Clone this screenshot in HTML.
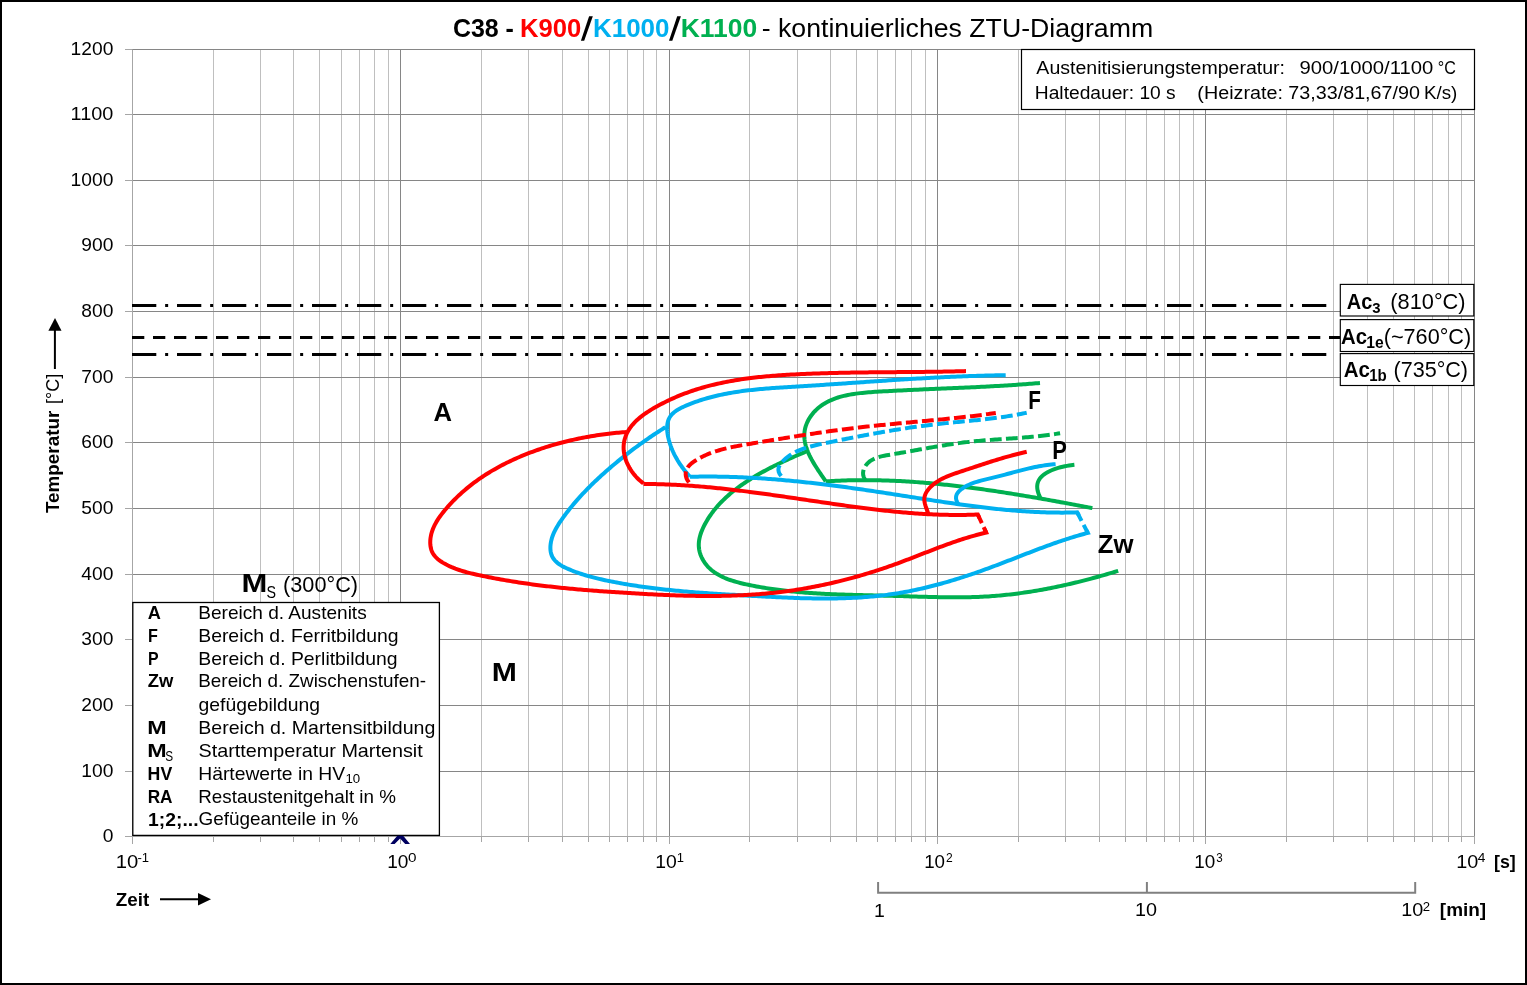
<!DOCTYPE html>
<html><head><meta charset="utf-8"><style>
html,body{margin:0;padding:0;background:#fff;}
svg{display:block;font-family:"Liberation Sans", sans-serif;will-change:transform;}
</style></head><body>
<svg width="1527" height="985" viewBox="0 0 1527 985">
<rect x="1" y="1" width="1525" height="983" fill="#fff" stroke="#000" stroke-width="2"/>
<line x1="213.5" y1="49.5" x2="213.5" y2="836" stroke="#BFBFBF" stroke-width="1"/>
<line x1="213.5" y1="836" x2="213.5" y2="842" stroke="#A6A6A6" stroke-width="1"/>
<line x1="260.5" y1="49.5" x2="260.5" y2="836" stroke="#BFBFBF" stroke-width="1"/>
<line x1="260.5" y1="836" x2="260.5" y2="842" stroke="#A6A6A6" stroke-width="1"/>
<line x1="293.5" y1="49.5" x2="293.5" y2="836" stroke="#BFBFBF" stroke-width="1"/>
<line x1="293.5" y1="836" x2="293.5" y2="842" stroke="#A6A6A6" stroke-width="1"/>
<line x1="319.5" y1="49.5" x2="319.5" y2="836" stroke="#BFBFBF" stroke-width="1"/>
<line x1="319.5" y1="836" x2="319.5" y2="842" stroke="#A6A6A6" stroke-width="1"/>
<line x1="341.5" y1="49.5" x2="341.5" y2="836" stroke="#BFBFBF" stroke-width="1"/>
<line x1="341.5" y1="836" x2="341.5" y2="842" stroke="#A6A6A6" stroke-width="1"/>
<line x1="359.5" y1="49.5" x2="359.5" y2="836" stroke="#BFBFBF" stroke-width="1"/>
<line x1="359.5" y1="836" x2="359.5" y2="842" stroke="#A6A6A6" stroke-width="1"/>
<line x1="374.5" y1="49.5" x2="374.5" y2="836" stroke="#BFBFBF" stroke-width="1"/>
<line x1="374.5" y1="836" x2="374.5" y2="842" stroke="#A6A6A6" stroke-width="1"/>
<line x1="388.5" y1="49.5" x2="388.5" y2="836" stroke="#BFBFBF" stroke-width="1"/>
<line x1="388.5" y1="836" x2="388.5" y2="842" stroke="#A6A6A6" stroke-width="1"/>
<line x1="481.5" y1="49.5" x2="481.5" y2="836" stroke="#BFBFBF" stroke-width="1"/>
<line x1="481.5" y1="836" x2="481.5" y2="842" stroke="#A6A6A6" stroke-width="1"/>
<line x1="528.5" y1="49.5" x2="528.5" y2="836" stroke="#BFBFBF" stroke-width="1"/>
<line x1="528.5" y1="836" x2="528.5" y2="842" stroke="#A6A6A6" stroke-width="1"/>
<line x1="562.5" y1="49.5" x2="562.5" y2="836" stroke="#BFBFBF" stroke-width="1"/>
<line x1="562.5" y1="836" x2="562.5" y2="842" stroke="#A6A6A6" stroke-width="1"/>
<line x1="588.5" y1="49.5" x2="588.5" y2="836" stroke="#BFBFBF" stroke-width="1"/>
<line x1="588.5" y1="836" x2="588.5" y2="842" stroke="#A6A6A6" stroke-width="1"/>
<line x1="609.5" y1="49.5" x2="609.5" y2="836" stroke="#BFBFBF" stroke-width="1"/>
<line x1="609.5" y1="836" x2="609.5" y2="842" stroke="#A6A6A6" stroke-width="1"/>
<line x1="627.5" y1="49.5" x2="627.5" y2="836" stroke="#BFBFBF" stroke-width="1"/>
<line x1="627.5" y1="836" x2="627.5" y2="842" stroke="#A6A6A6" stroke-width="1"/>
<line x1="643.5" y1="49.5" x2="643.5" y2="836" stroke="#BFBFBF" stroke-width="1"/>
<line x1="643.5" y1="836" x2="643.5" y2="842" stroke="#A6A6A6" stroke-width="1"/>
<line x1="656.5" y1="49.5" x2="656.5" y2="836" stroke="#BFBFBF" stroke-width="1"/>
<line x1="656.5" y1="836" x2="656.5" y2="842" stroke="#A6A6A6" stroke-width="1"/>
<line x1="749.5" y1="49.5" x2="749.5" y2="836" stroke="#BFBFBF" stroke-width="1"/>
<line x1="749.5" y1="836" x2="749.5" y2="842" stroke="#A6A6A6" stroke-width="1"/>
<line x1="797.5" y1="49.5" x2="797.5" y2="836" stroke="#BFBFBF" stroke-width="1"/>
<line x1="797.5" y1="836" x2="797.5" y2="842" stroke="#A6A6A6" stroke-width="1"/>
<line x1="830.5" y1="49.5" x2="830.5" y2="836" stroke="#BFBFBF" stroke-width="1"/>
<line x1="830.5" y1="836" x2="830.5" y2="842" stroke="#A6A6A6" stroke-width="1"/>
<line x1="856.5" y1="49.5" x2="856.5" y2="836" stroke="#BFBFBF" stroke-width="1"/>
<line x1="856.5" y1="836" x2="856.5" y2="842" stroke="#A6A6A6" stroke-width="1"/>
<line x1="877.5" y1="49.5" x2="877.5" y2="836" stroke="#BFBFBF" stroke-width="1"/>
<line x1="877.5" y1="836" x2="877.5" y2="842" stroke="#A6A6A6" stroke-width="1"/>
<line x1="895.5" y1="49.5" x2="895.5" y2="836" stroke="#BFBFBF" stroke-width="1"/>
<line x1="895.5" y1="836" x2="895.5" y2="842" stroke="#A6A6A6" stroke-width="1"/>
<line x1="911.5" y1="49.5" x2="911.5" y2="836" stroke="#BFBFBF" stroke-width="1"/>
<line x1="911.5" y1="836" x2="911.5" y2="842" stroke="#A6A6A6" stroke-width="1"/>
<line x1="925.5" y1="49.5" x2="925.5" y2="836" stroke="#BFBFBF" stroke-width="1"/>
<line x1="925.5" y1="836" x2="925.5" y2="842" stroke="#A6A6A6" stroke-width="1"/>
<line x1="1018.5" y1="49.5" x2="1018.5" y2="836" stroke="#BFBFBF" stroke-width="1"/>
<line x1="1018.5" y1="836" x2="1018.5" y2="842" stroke="#A6A6A6" stroke-width="1"/>
<line x1="1065.5" y1="49.5" x2="1065.5" y2="836" stroke="#BFBFBF" stroke-width="1"/>
<line x1="1065.5" y1="836" x2="1065.5" y2="842" stroke="#A6A6A6" stroke-width="1"/>
<line x1="1099.5" y1="49.5" x2="1099.5" y2="836" stroke="#BFBFBF" stroke-width="1"/>
<line x1="1099.5" y1="836" x2="1099.5" y2="842" stroke="#A6A6A6" stroke-width="1"/>
<line x1="1125.5" y1="49.5" x2="1125.5" y2="836" stroke="#BFBFBF" stroke-width="1"/>
<line x1="1125.5" y1="836" x2="1125.5" y2="842" stroke="#A6A6A6" stroke-width="1"/>
<line x1="1146.5" y1="49.5" x2="1146.5" y2="836" stroke="#BFBFBF" stroke-width="1"/>
<line x1="1146.5" y1="836" x2="1146.5" y2="842" stroke="#A6A6A6" stroke-width="1"/>
<line x1="1164.5" y1="49.5" x2="1164.5" y2="836" stroke="#BFBFBF" stroke-width="1"/>
<line x1="1164.5" y1="836" x2="1164.5" y2="842" stroke="#A6A6A6" stroke-width="1"/>
<line x1="1179.5" y1="49.5" x2="1179.5" y2="836" stroke="#BFBFBF" stroke-width="1"/>
<line x1="1179.5" y1="836" x2="1179.5" y2="842" stroke="#A6A6A6" stroke-width="1"/>
<line x1="1193.5" y1="49.5" x2="1193.5" y2="836" stroke="#BFBFBF" stroke-width="1"/>
<line x1="1193.5" y1="836" x2="1193.5" y2="842" stroke="#A6A6A6" stroke-width="1"/>
<line x1="1286.5" y1="49.5" x2="1286.5" y2="836" stroke="#BFBFBF" stroke-width="1"/>
<line x1="1286.5" y1="836" x2="1286.5" y2="842" stroke="#A6A6A6" stroke-width="1"/>
<line x1="1333.5" y1="49.5" x2="1333.5" y2="836" stroke="#BFBFBF" stroke-width="1"/>
<line x1="1333.5" y1="836" x2="1333.5" y2="842" stroke="#A6A6A6" stroke-width="1"/>
<line x1="1367.5" y1="49.5" x2="1367.5" y2="836" stroke="#BFBFBF" stroke-width="1"/>
<line x1="1367.5" y1="836" x2="1367.5" y2="842" stroke="#A6A6A6" stroke-width="1"/>
<line x1="1393.5" y1="49.5" x2="1393.5" y2="836" stroke="#BFBFBF" stroke-width="1"/>
<line x1="1393.5" y1="836" x2="1393.5" y2="842" stroke="#A6A6A6" stroke-width="1"/>
<line x1="1414.5" y1="49.5" x2="1414.5" y2="836" stroke="#BFBFBF" stroke-width="1"/>
<line x1="1414.5" y1="836" x2="1414.5" y2="842" stroke="#A6A6A6" stroke-width="1"/>
<line x1="1432.5" y1="49.5" x2="1432.5" y2="836" stroke="#BFBFBF" stroke-width="1"/>
<line x1="1432.5" y1="836" x2="1432.5" y2="842" stroke="#A6A6A6" stroke-width="1"/>
<line x1="1448.5" y1="49.5" x2="1448.5" y2="836" stroke="#BFBFBF" stroke-width="1"/>
<line x1="1448.5" y1="836" x2="1448.5" y2="842" stroke="#A6A6A6" stroke-width="1"/>
<line x1="1461.5" y1="49.5" x2="1461.5" y2="836" stroke="#BFBFBF" stroke-width="1"/>
<line x1="1461.5" y1="836" x2="1461.5" y2="842" stroke="#A6A6A6" stroke-width="1"/>
<line x1="132" y1="49.5" x2="1474.5" y2="49.5" stroke="#868686" stroke-width="1"/>
<line x1="125" y1="49.5" x2="132" y2="49.5" stroke="#A6A6A6" stroke-width="1"/>
<line x1="132" y1="114.5" x2="1474.5" y2="114.5" stroke="#868686" stroke-width="1"/>
<line x1="125" y1="114.5" x2="132" y2="114.5" stroke="#A6A6A6" stroke-width="1"/>
<line x1="132" y1="180.5" x2="1474.5" y2="180.5" stroke="#868686" stroke-width="1"/>
<line x1="125" y1="180.5" x2="132" y2="180.5" stroke="#A6A6A6" stroke-width="1"/>
<line x1="132" y1="245.5" x2="1474.5" y2="245.5" stroke="#868686" stroke-width="1"/>
<line x1="125" y1="245.5" x2="132" y2="245.5" stroke="#A6A6A6" stroke-width="1"/>
<line x1="132" y1="311.5" x2="1474.5" y2="311.5" stroke="#868686" stroke-width="1"/>
<line x1="125" y1="311.5" x2="132" y2="311.5" stroke="#A6A6A6" stroke-width="1"/>
<line x1="132" y1="377.5" x2="1474.5" y2="377.5" stroke="#868686" stroke-width="1"/>
<line x1="125" y1="377.5" x2="132" y2="377.5" stroke="#A6A6A6" stroke-width="1"/>
<line x1="132" y1="442.5" x2="1474.5" y2="442.5" stroke="#868686" stroke-width="1"/>
<line x1="125" y1="442.5" x2="132" y2="442.5" stroke="#A6A6A6" stroke-width="1"/>
<line x1="132" y1="508.5" x2="1474.5" y2="508.5" stroke="#868686" stroke-width="1"/>
<line x1="125" y1="508.5" x2="132" y2="508.5" stroke="#A6A6A6" stroke-width="1"/>
<line x1="132" y1="574.5" x2="1474.5" y2="574.5" stroke="#868686" stroke-width="1"/>
<line x1="125" y1="574.5" x2="132" y2="574.5" stroke="#A6A6A6" stroke-width="1"/>
<line x1="132" y1="639.5" x2="1474.5" y2="639.5" stroke="#868686" stroke-width="1"/>
<line x1="125" y1="639.5" x2="132" y2="639.5" stroke="#A6A6A6" stroke-width="1"/>
<line x1="132" y1="705.5" x2="1474.5" y2="705.5" stroke="#868686" stroke-width="1"/>
<line x1="125" y1="705.5" x2="132" y2="705.5" stroke="#A6A6A6" stroke-width="1"/>
<line x1="132" y1="771.5" x2="1474.5" y2="771.5" stroke="#868686" stroke-width="1"/>
<line x1="125" y1="771.5" x2="132" y2="771.5" stroke="#A6A6A6" stroke-width="1"/>
<line x1="125" y1="836.5" x2="132" y2="836.5" stroke="#A6A6A6" stroke-width="1"/>
<line x1="400.5" y1="49.5" x2="400.5" y2="836" stroke="#868686" stroke-width="1"/>
<line x1="669.5" y1="49.5" x2="669.5" y2="836" stroke="#868686" stroke-width="1"/>
<line x1="937.5" y1="49.5" x2="937.5" y2="836" stroke="#868686" stroke-width="1"/>
<line x1="1205.5" y1="49.5" x2="1205.5" y2="836" stroke="#868686" stroke-width="1"/>
<line x1="1474.5" y1="49.5" x2="1474.5" y2="836" stroke="#868686" stroke-width="1"/>
<line x1="132.5" y1="836" x2="132.5" y2="844" stroke="#A6A6A6" stroke-width="1"/>
<line x1="400.5" y1="836" x2="400.5" y2="844" stroke="#A6A6A6" stroke-width="1"/>
<line x1="669.5" y1="836" x2="669.5" y2="844" stroke="#A6A6A6" stroke-width="1"/>
<line x1="937.5" y1="836" x2="937.5" y2="844" stroke="#A6A6A6" stroke-width="1"/>
<line x1="1205.5" y1="836" x2="1205.5" y2="844" stroke="#A6A6A6" stroke-width="1"/>
<line x1="1474.5" y1="836" x2="1474.5" y2="844" stroke="#A6A6A6" stroke-width="1"/>
<line x1="132.5" y1="49.5" x2="132.5" y2="836.5" stroke="#A6A6A6" stroke-width="1"/>
<line x1="132" y1="836.5" x2="1474.5" y2="836.5" stroke="#A6A6A6" stroke-width="1"/>
<text x="70.64" y="55.20" font-size="18.31" fill="#000" textLength="42.71" lengthAdjust="spacingAndGlyphs">1200</text>
<text x="70.64" y="120.20" font-size="18.31" fill="#000" textLength="42.71" lengthAdjust="spacingAndGlyphs">1100</text>
<text x="70.64" y="186.20" font-size="18.31" fill="#000" textLength="42.71" lengthAdjust="spacingAndGlyphs">1000</text>
<text x="81.32" y="251.20" font-size="18.31" fill="#000" textLength="32.03" lengthAdjust="spacingAndGlyphs">900</text>
<text x="81.32" y="317.20" font-size="18.31" fill="#000" textLength="32.03" lengthAdjust="spacingAndGlyphs">800</text>
<text x="81.32" y="383.20" font-size="18.31" fill="#000" textLength="32.03" lengthAdjust="spacingAndGlyphs">700</text>
<text x="81.32" y="448.20" font-size="18.31" fill="#000" textLength="32.03" lengthAdjust="spacingAndGlyphs">600</text>
<text x="81.32" y="514.20" font-size="18.31" fill="#000" textLength="32.03" lengthAdjust="spacingAndGlyphs">500</text>
<text x="81.32" y="580.20" font-size="18.31" fill="#000" textLength="32.03" lengthAdjust="spacingAndGlyphs">400</text>
<text x="81.32" y="645.20" font-size="18.31" fill="#000" textLength="32.03" lengthAdjust="spacingAndGlyphs">300</text>
<text x="81.32" y="711.20" font-size="18.31" fill="#000" textLength="32.03" lengthAdjust="spacingAndGlyphs">200</text>
<text x="81.32" y="777.20" font-size="18.31" fill="#000" textLength="32.03" lengthAdjust="spacingAndGlyphs">100</text>
<text x="102.67" y="842.20" font-size="18.31" fill="#000" textLength="10.68" lengthAdjust="spacingAndGlyphs">0</text>
<text x="115.86" y="867.60" font-size="18.31" fill="#000" textLength="22.53" lengthAdjust="spacingAndGlyphs">10</text>
<text x="137.42" y="861.80" font-size="12.60" fill="#000" textLength="11.62" lengthAdjust="spacingAndGlyphs">-1</text>
<text x="387.25" y="867.60" font-size="18.31" fill="#000" textLength="21.20" lengthAdjust="spacingAndGlyphs">10</text>
<text x="407.90" y="861.80" font-size="12.60" fill="#000" textLength="8.49" lengthAdjust="spacingAndGlyphs">0</text>
<text x="655.33" y="867.60" font-size="18.31" fill="#000" textLength="21.53" lengthAdjust="spacingAndGlyphs">10</text>
<text x="676.81" y="861.80" font-size="12.60" fill="#000" textLength="7.22" lengthAdjust="spacingAndGlyphs">1</text>
<text x="924.17" y="867.60" font-size="18.31" fill="#000" textLength="20.86" lengthAdjust="spacingAndGlyphs">10</text>
<text x="945.99" y="861.80" font-size="12.60" fill="#000" textLength="6.71" lengthAdjust="spacingAndGlyphs">2</text>
<text x="1194.16" y="867.60" font-size="18.31" fill="#000" textLength="20.97" lengthAdjust="spacingAndGlyphs">10</text>
<text x="1216.26" y="861.80" font-size="12.60" fill="#000" textLength="6.45" lengthAdjust="spacingAndGlyphs">3</text>
<text x="1456.19" y="867.60" font-size="18.31" fill="#000" textLength="22.09" lengthAdjust="spacingAndGlyphs">10</text>
<text x="1477.89" y="861.80" font-size="12.60" fill="#000" textLength="7.62" lengthAdjust="spacingAndGlyphs">4</text>
<text x="1494.00" y="867.50" font-size="18.30" font-weight="bold" fill="#000" textLength="21.80" lengthAdjust="spacingAndGlyphs">[s]</text>
<path d="M878.1 882 V892.7 H1415.2 V882" fill="none" stroke="#808080" stroke-width="2"/>
<line x1="1146.9" y1="882" x2="1146.9" y2="892" stroke="#808080" stroke-width="2"/>
<text x="874.12" y="916.80" font-size="18.31" fill="#000" textLength="10.84" lengthAdjust="spacingAndGlyphs">1</text>
<text x="1135.00" y="916.00" font-size="18.31" fill="#000" textLength="21.98" lengthAdjust="spacingAndGlyphs">10</text>
<text x="1401.30" y="916.00" font-size="18.31" fill="#000" textLength="21.98" lengthAdjust="spacingAndGlyphs">10</text>
<text x="1422.84" y="910.50" font-size="12.60" fill="#000" textLength="7.32" lengthAdjust="spacingAndGlyphs">2</text>
<text x="1439.84" y="916.00" font-size="18.30" font-weight="bold" fill="#000" textLength="46.33" lengthAdjust="spacingAndGlyphs">[min]</text>
<text x="115.74" y="905.80" font-size="18.90" font-weight="bold" fill="#000" textLength="33.49" lengthAdjust="spacingAndGlyphs">Zeit</text>
<line x1="160" y1="899.2" x2="199" y2="899.2" stroke="#000" stroke-width="2"/>
<polygon points="198,893 211,899.2 198,905.6" fill="#000"/>
<g transform="translate(59.3,512.8) rotate(-90)"><text x="-0.21" y="0.00" font-size="19.19" font-weight="bold" fill="#000" textLength="102.29" lengthAdjust="spacingAndGlyphs">Temperatur</text><text x="108.81" y="0.00" font-size="18.60" fill="#000" textLength="30.27" lengthAdjust="spacingAndGlyphs">[°C]</text></g>
<line x1="54.9" y1="369" x2="54.9" y2="330" stroke="#000" stroke-width="2"/>
<polygon points="48.4,330.7 61.5,330.7 55,317.9" fill="#000"/>
<line x1="132" y1="305.4" x2="1330" y2="305.4" stroke="#000" stroke-width="3" stroke-dasharray="24.3 8.85 3.0 8.85"/>
<line x1="132" y1="337.4" x2="1340" y2="337.4" stroke="#000" stroke-width="3" stroke-dasharray="12.3 8.7"/>
<line x1="132" y1="354.4" x2="1330" y2="354.4" stroke="#000" stroke-width="3" stroke-dasharray="24.3 8.85 3.0 8.85"/>
<path d="M807.40 451.00 L805.54 451.78 L803.69 452.56 L801.84 453.35 L799.98 454.14 L798.14 454.93 L796.29 455.73 L794.45 456.53 L792.61 457.34 L790.77 458.16 L788.94 458.98 L787.11 459.81 L785.28 460.64 L783.46 461.49 L781.65 462.34 L779.83 463.20 L778.03 464.07 L776.22 464.94 L774.43 465.83 L772.63 466.73 L770.85 467.64 L769.07 468.55 L767.29 469.48 L765.52 470.42 L763.76 471.38 L762.01 472.34 L760.26 473.32 L758.52 474.31 L756.78 475.31 L755.06 476.33 L753.34 477.36 L751.63 478.41 L749.93 479.47 L748.23 480.55 L746.55 481.64 L744.88 482.75 L743.21 483.88 L741.56 485.02 L739.92 486.19 L738.30 487.37 L736.69 488.57 L735.09 489.79 L733.51 491.03 L731.95 492.29 L730.41 493.57 L728.89 494.88 L727.38 496.20 L725.90 497.55 L724.44 498.92 L723.00 500.32 L721.58 501.74 L720.19 503.19 L718.82 504.66 L717.48 506.16 L716.17 507.69 L714.89 509.24 L713.63 510.82 L712.40 512.43 L711.21 514.07 L710.04 515.74 L708.91 517.43 L707.81 519.16 L706.75 520.92 L705.72 522.71 L704.73 524.53 L703.78 526.38 L702.90 528.25 L702.07 530.15 L701.32 532.06 L700.65 533.99 L700.06 535.93 L699.58 537.88 L699.20 539.83 L698.93 541.78 L698.79 543.74 L698.78 545.69 L698.90 547.63 L699.16 549.56 L699.56 551.47 L700.08 553.36 L700.72 555.21 L701.47 557.03 L702.33 558.80 L703.29 560.53 L704.34 562.19 L705.48 563.80 L706.71 565.33 L708.01 566.80 L709.39 568.18 L710.83 569.50 L712.34 570.75 L713.90 571.93 L715.53 573.04 L717.21 574.10 L718.94 575.09 L720.72 576.03 L722.53 576.92 L724.39 577.76 L726.28 578.54 L728.21 579.29 L730.16 579.99 L732.14 580.65 L734.14 581.27 L736.15 581.86 L738.18 582.42 L740.21 582.95 L742.26 583.45 L744.30 583.93 L746.35 584.38 L748.38 584.82 L750.41 585.24 L752.43 585.65 L754.44 586.05 L756.44 586.43 L758.43 586.80 L760.42 587.15 L762.39 587.50 L764.37 587.83 L766.33 588.15 L768.30 588.46 L770.26 588.76 L772.22 589.04 L774.18 589.32 L776.13 589.59 L778.09 589.85 L780.05 590.10 L782.02 590.35 L783.98 590.58 L785.95 590.81 L787.92 591.02 L789.89 591.23 L791.87 591.43 L793.85 591.63 L795.82 591.82 L797.81 592.00 L799.79 592.17 L801.77 592.34 L803.76 592.50 L805.75 592.65 L807.74 592.80 L809.73 592.94 L811.72 593.08 L813.72 593.21 L815.71 593.33 L817.71 593.45 L819.71 593.57 L821.71 593.67 L823.71 593.78 L825.71 593.88 L827.72 593.98 L829.72 594.07 L831.73 594.15 L833.74 594.24 L835.75 594.32 L837.76 594.40 L839.77 594.47 L841.78 594.54 L843.79 594.61 L845.80 594.67 L847.82 594.73 L849.83 594.79 L851.84 594.85 L853.86 594.91 L855.88 594.96 L857.89 595.01 L859.91 595.06 L861.93 595.11 L863.94 595.16 L865.96 595.21 L867.98 595.26 L870.00 595.30 L872.01 595.35 L874.03 595.40 L876.05 595.44 L878.07 595.49 L880.08 595.53 L882.10 595.58 L884.12 595.63 L886.14 595.68 L888.15 595.73 L890.17 595.78 L892.18 595.83 L894.20 595.89 L896.21 595.94 L898.23 596.00 L900.24 596.06 L902.25 596.12 L904.27 596.18 L906.28 596.25 L908.29 596.31 L910.30 596.38 L912.31 596.44 L914.32 596.50 L916.33 596.57 L918.34 596.63 L920.35 596.69 L922.36 596.75 L924.36 596.81 L926.37 596.87 L928.38 596.92 L930.38 596.98 L932.39 597.03 L934.40 597.08 L936.40 597.12 L938.41 597.16 L940.41 597.20 L942.41 597.23 L944.42 597.26 L946.42 597.29 L948.42 597.31 L950.43 597.33 L952.43 597.34 L954.43 597.35 L956.43 597.35 L958.44 597.34 L960.44 597.33 L962.44 597.31 L964.44 597.29 L966.44 597.25 L968.44 597.22 L970.44 597.17 L972.44 597.12 L974.44 597.06 L976.44 596.99 L978.44 596.91 L980.44 596.82 L982.44 596.72 L984.44 596.62 L986.43 596.51 L988.43 596.38 L990.43 596.25 L992.43 596.10 L994.43 595.95 L996.42 595.79 L998.42 595.62 L1000.42 595.44 L1002.42 595.25 L1004.41 595.05 L1006.41 594.84 L1008.40 594.63 L1010.40 594.40 L1012.39 594.17 L1014.39 593.92 L1016.38 593.67 L1018.37 593.41 L1020.36 593.14 L1022.35 592.87 L1024.34 592.58 L1026.33 592.29 L1028.32 591.99 L1030.31 591.68 L1032.29 591.36 L1034.28 591.04 L1036.26 590.71 L1038.25 590.37 L1040.23 590.02 L1042.21 589.66 L1044.19 589.30 L1046.17 588.93 L1048.14 588.55 L1050.12 588.17 L1052.10 587.78 L1054.07 587.38 L1056.04 586.97 L1058.01 586.56 L1059.98 586.14 L1061.95 585.72 L1063.92 585.28 L1065.88 584.84 L1067.84 584.40 L1069.80 583.95 L1071.76 583.49 L1073.72 583.02 L1075.68 582.55 L1077.63 582.08 L1079.59 581.59 L1081.54 581.10 L1083.49 580.61 L1085.43 580.11 L1087.38 579.60 L1089.32 579.09 L1091.26 578.57 L1093.20 578.05 L1095.14 577.52 L1097.07 576.99 L1099.00 576.45 L1100.93 575.91 L1102.86 575.36 L1104.79 574.81 L1106.71 574.25 L1108.63 573.69 L1110.55 573.12 L1112.47 572.54 L1114.38 571.97 L1116.29 571.39 L1118.20 570.80" fill="none" stroke="#00B050" stroke-width="4.0" stroke-linejoin="miter" stroke-miterlimit="10"/>
<path d="M1040.00 383.00 L1037.89 383.18 L1035.78 383.35 L1033.68 383.52 L1031.59 383.68 L1029.50 383.84 L1027.42 384.00 L1025.35 384.15 L1023.29 384.31 L1021.23 384.45 L1019.18 384.60 L1017.13 384.74 L1015.09 384.88 L1013.05 385.01 L1011.02 385.15 L1009.00 385.28 L1006.98 385.40 L1004.96 385.53 L1002.95 385.65 L1000.95 385.77 L998.95 385.89 L996.95 386.00 L994.95 386.11 L992.96 386.22 L990.98 386.33 L988.99 386.44 L987.01 386.54 L985.04 386.64 L983.06 386.75 L981.09 386.84 L979.12 386.94 L977.15 387.04 L975.18 387.13 L973.22 387.23 L971.26 387.32 L969.29 387.41 L967.33 387.50 L965.37 387.59 L963.42 387.68 L961.46 387.76 L959.50 387.85 L957.54 387.94 L955.58 388.02 L953.62 388.11 L951.67 388.19 L949.71 388.27 L947.75 388.36 L945.78 388.44 L943.82 388.52 L941.86 388.61 L939.89 388.69 L937.93 388.77 L935.96 388.86 L933.99 388.94 L932.01 389.03 L930.04 389.11 L928.06 389.20 L926.07 389.28 L924.09 389.37 L922.10 389.46 L920.11 389.54 L918.11 389.63 L916.11 389.72 L914.11 389.81 L912.10 389.91 L910.09 390.00 L908.07 390.10 L906.05 390.19 L904.02 390.29 L901.99 390.39 L899.95 390.49 L897.90 390.59 L895.85 390.70 L893.80 390.81 L891.74 390.91 L889.67 391.02 L887.59 391.14 L885.51 391.25 L883.42 391.37 L881.33 391.49 L879.22 391.61 L877.11 391.74 L875.00 391.87 L872.88 392.01 L870.76 392.16 L868.64 392.32 L866.52 392.49 L864.41 392.68 L862.30 392.89 L860.19 393.12 L858.10 393.37 L856.02 393.64 L853.95 393.94 L851.89 394.27 L849.85 394.63 L847.82 395.02 L845.81 395.44 L843.83 395.90 L841.86 396.40 L839.92 396.94 L838.01 397.52 L836.12 398.14 L834.26 398.82 L832.44 399.54 L830.64 400.31 L828.88 401.13 L827.15 402.00 L825.46 402.94 L823.81 403.93 L822.21 404.98 L820.64 406.10 L819.12 407.28 L817.64 408.52 L816.21 409.84 L814.84 411.22 L813.51 412.67 L812.26 414.18 L811.07 415.75 L809.96 417.37 L808.93 419.04 L807.99 420.77 L807.14 422.53 L806.39 424.34 L805.75 426.18 L805.22 428.05 L804.82 429.96 L804.53 431.89 L804.37 433.84 L804.33 435.81 L804.40 437.79 L804.58 439.78 L804.88 441.77 L805.28 443.76 L805.79 445.75 L806.39 447.74 L807.08 449.71 L807.85 451.68 L808.68 453.63 L809.59 455.56 L810.55 457.48 L811.56 459.39 L812.61 461.27 L813.69 463.12 L814.80 464.96 L815.93 466.76 L817.07 468.53 L818.22 470.28 L819.36 471.99 L820.49 473.66 L821.60 475.29 L822.68 476.88 L823.73 478.44 L824.74 479.94 L825.70 481.40" fill="none" stroke="#00B050" stroke-width="4.0" stroke-linejoin="miter" stroke-miterlimit="10"/>
<path d="M825.70 481.40 L827.73 481.27 L829.75 481.15 L831.78 481.03 L833.80 480.92 L835.83 480.82 L837.85 480.73 L839.87 480.64 L841.90 480.56 L843.92 480.49 L845.94 480.42 L847.97 480.36 L849.99 480.31 L852.01 480.27 L854.03 480.23 L856.06 480.20 L858.08 480.17 L860.10 480.15 L862.12 480.14 L864.14 480.14 L866.16 480.14 L868.18 480.15 L870.20 480.16 L872.22 480.18 L874.24 480.21 L876.26 480.24 L878.28 480.28 L880.30 480.33 L882.32 480.38 L884.33 480.44 L886.35 480.50 L888.37 480.57 L890.39 480.64 L892.40 480.72 L894.42 480.81 L896.44 480.90 L898.45 481.00 L900.47 481.10 L902.48 481.21 L904.50 481.33 L906.51 481.44 L908.53 481.57 L910.54 481.70 L912.56 481.83 L914.57 481.97 L916.58 482.12 L918.60 482.27 L920.61 482.42 L922.62 482.58 L924.63 482.75 L926.65 482.92 L928.66 483.09 L930.67 483.27 L932.68 483.45 L934.69 483.64 L936.70 483.83 L938.71 484.03 L940.72 484.23 L942.73 484.43 L944.74 484.64 L946.75 484.86 L948.75 485.07 L950.76 485.30 L952.77 485.52 L954.78 485.75 L956.78 485.98 L958.79 486.22 L960.80 486.46 L962.80 486.71 L964.81 486.96 L966.81 487.21 L968.82 487.46 L970.82 487.72 L972.83 487.99 L974.83 488.25 L976.83 488.52 L978.84 488.80 L980.84 489.07 L982.84 489.35 L984.85 489.63 L986.85 489.92 L988.85 490.21 L990.85 490.50 L992.85 490.79 L994.85 491.09 L996.85 491.39 L998.85 491.69 L1000.85 492.00 L1002.85 492.30 L1004.85 492.61 L1006.85 492.93 L1008.84 493.24 L1010.84 493.56 L1012.84 493.88 L1014.84 494.20 L1016.83 494.53 L1018.83 494.86 L1020.82 495.19 L1022.82 495.52 L1024.81 495.85 L1026.81 496.19 L1028.80 496.53 L1030.80 496.87 L1032.79 497.21 L1034.78 497.55 L1036.77 497.90 L1038.77 498.24 L1040.76 498.59 L1042.75 498.94 L1044.74 499.29 L1046.73 499.65 L1048.72 500.00 L1050.71 500.36 L1052.70 500.72 L1054.69 501.08 L1056.68 501.44 L1058.67 501.80 L1060.65 502.16 L1062.64 502.53 L1064.63 502.89 L1066.61 503.26 L1068.60 503.63 L1070.59 504.00 L1072.57 504.37 L1074.56 504.74 L1076.54 505.11 L1078.52 505.48 L1080.51 505.85 L1082.49 506.22 L1084.47 506.60 L1086.46 506.97 L1088.44 507.35 L1090.42 507.72 L1092.40 508.10" fill="none" stroke="#00B050" stroke-width="4.0" stroke-linejoin="miter" stroke-miterlimit="10"/>
<path d="M866.00 480.80 L864.59 478.83 L863.66 476.84 L863.16 474.84 L863.06 472.85 L863.31 470.91 L863.85 469.04 L864.67 467.25 L865.69 465.58 L866.90 464.05 L868.23 462.68 L869.69 461.46 L871.25 460.38 L872.91 459.43 L874.66 458.59 L876.49 457.86 L878.38 457.22 L880.33 456.65 L882.33 456.16 L884.37 455.72 L886.43 455.32 L888.51 454.95 L890.60 454.59 L892.69 454.25 L894.77 453.90 L896.84 453.54 L898.90 453.19 L900.96 452.83 L903.01 452.47 L905.05 452.12 L907.08 451.75 L909.11 451.39 L911.13 451.03 L913.15 450.67 L915.16 450.31 L917.17 449.95 L919.17 449.59 L921.16 449.23 L923.16 448.88 L925.15 448.52 L927.14 448.17 L929.12 447.82 L931.10 447.48 L933.08 447.13 L935.06 446.79 L937.04 446.46 L939.01 446.13 L940.99 445.80 L942.96 445.48 L944.93 445.16 L946.91 444.85 L948.88 444.55 L950.86 444.25 L952.84 443.95 L954.82 443.67 L956.80 443.39 L958.79 443.12 L960.77 442.86 L962.76 442.60 L964.76 442.35 L966.75 442.12 L968.76 441.89 L970.76 441.67 L972.77 441.46 L974.79 441.26 L976.81 441.06 L978.83 440.87 L980.85 440.69 L982.88 440.52 L984.91 440.35 L986.95 440.19 L988.99 440.03 L991.03 439.87 L993.07 439.72 L995.11 439.57 L997.15 439.43 L999.20 439.28 L1001.25 439.14 L1003.29 439.00 L1005.34 438.86 L1007.39 438.72 L1009.44 438.57 L1011.49 438.43 L1013.54 438.28 L1015.59 438.14 L1017.64 437.98 L1019.69 437.83 L1021.73 437.67 L1023.78 437.51 L1025.82 437.34 L1027.86 437.17 L1029.90 436.99 L1031.94 436.80 L1033.97 436.61 L1036.01 436.41 L1038.03 436.20 L1040.06 435.98 L1042.08 435.75 L1044.10 435.52 L1046.12 435.27 L1048.13 435.01 L1050.14 434.74 L1052.14 434.46 L1054.14 434.16 L1056.13 433.86 L1058.12 433.53 L1060.10 433.20" fill="none" stroke="#00B050" stroke-width="4.0" stroke-linejoin="miter" stroke-miterlimit="10" stroke-dasharray="11.8 4.3"/>
<path d="M1074.40 464.80 L1072.75 464.99 L1070.96 465.24 L1069.03 465.53 L1067.00 465.88 L1064.88 466.29 L1062.70 466.77 L1060.48 467.31 L1058.24 467.93 L1056.00 468.62 L1053.78 469.39 L1051.62 470.24 L1049.52 471.18 L1047.51 472.22 L1045.62 473.34 L1043.86 474.57 L1042.26 475.90 L1040.84 477.34 L1039.62 478.88 L1038.62 480.54 L1037.86 482.32 L1037.38 484.22 L1037.18 486.25 L1037.27 488.39 L1037.62 490.58 L1038.20 492.77 L1038.96 494.91 L1039.87 496.94 L1040.90 498.80" fill="none" stroke="#00B050" stroke-width="4.0" stroke-linejoin="miter" stroke-miterlimit="10"/>
<path d="M665.40 427.20 L663.72 428.26 L662.04 429.32 L660.36 430.40 L658.69 431.48 L657.02 432.57 L655.35 433.67 L653.68 434.78 L652.02 435.90 L650.36 437.02 L648.70 438.16 L647.05 439.30 L645.40 440.45 L643.75 441.61 L642.11 442.77 L640.47 443.94 L638.84 445.12 L637.21 446.31 L635.58 447.51 L633.96 448.71 L632.34 449.92 L630.73 451.14 L629.13 452.37 L627.53 453.60 L625.93 454.84 L624.35 456.09 L622.76 457.34 L621.19 458.60 L619.62 459.87 L618.05 461.15 L616.49 462.43 L614.94 463.72 L613.40 465.01 L611.86 466.31 L610.33 467.62 L608.81 468.94 L607.29 470.26 L605.79 471.58 L604.29 472.92 L602.80 474.25 L601.31 475.60 L599.84 476.95 L598.37 478.31 L596.91 479.67 L595.46 481.04 L594.02 482.42 L592.59 483.80 L591.17 485.19 L589.76 486.59 L588.35 487.99 L586.96 489.41 L585.58 490.83 L584.20 492.27 L582.83 493.71 L581.48 495.17 L580.13 496.64 L578.80 498.11 L577.47 499.60 L576.16 501.11 L574.85 502.62 L573.56 504.15 L572.27 505.69 L571.00 507.25 L569.74 508.82 L568.49 510.41 L567.24 512.01 L566.01 513.63 L564.80 515.26 L563.59 516.91 L562.39 518.58 L561.21 520.27 L560.05 521.98 L558.92 523.70 L557.82 525.45 L556.77 527.22 L555.77 529.02 L554.83 530.84 L553.95 532.69 L553.16 534.56 L552.44 536.47 L551.82 538.41 L551.30 540.38 L550.89 542.37 L550.59 544.37 L550.42 546.37 L550.39 548.34 L550.50 550.27 L550.77 552.15 L551.20 553.96 L551.81 555.70 L552.59 557.33 L553.57 558.86 L554.71 560.29 L556.00 561.62 L557.44 562.87 L558.99 564.03 L560.65 565.12 L562.39 566.15 L564.21 567.11 L566.08 568.02 L567.98 568.89 L569.91 569.71 L571.84 570.51 L573.78 571.27 L575.72 572.00 L577.66 572.70 L579.60 573.37 L581.54 574.02 L583.48 574.64 L585.43 575.24 L587.38 575.82 L589.33 576.37 L591.28 576.91 L593.23 577.42 L595.18 577.92 L597.14 578.40 L599.09 578.87 L601.05 579.32 L603.01 579.75 L604.97 580.18 L606.93 580.59 L608.89 581.00 L610.86 581.39 L612.82 581.78 L614.79 582.16 L616.75 582.53 L618.72 582.90 L620.69 583.25 L622.66 583.60 L624.63 583.94 L626.60 584.28 L628.58 584.61 L630.55 584.93 L632.53 585.24 L634.50 585.55 L636.48 585.85 L638.46 586.15 L640.44 586.43 L642.42 586.72 L644.40 586.99 L646.38 587.26 L648.36 587.52 L650.34 587.78 L652.33 588.03 L654.31 588.28 L656.30 588.52 L658.29 588.76 L660.27 588.99 L662.26 589.21 L664.25 589.43 L666.24 589.65 L668.23 589.86 L670.22 590.07 L672.22 590.27 L674.21 590.46 L676.20 590.66 L678.20 590.85 L680.19 591.03 L682.19 591.21 L684.18 591.39 L686.18 591.56 L688.18 591.73 L690.18 591.89 L692.18 592.06 L694.18 592.21 L696.18 592.37 L698.18 592.52 L700.18 592.67 L702.18 592.82 L704.19 592.96 L706.19 593.10 L708.19 593.24 L710.20 593.38 L712.20 593.51 L714.21 593.64 L716.21 593.77 L718.22 593.90 L720.23 594.03 L722.23 594.15 L724.24 594.28 L726.25 594.40 L728.26 594.52 L730.27 594.63 L732.28 594.75 L734.29 594.87 L736.30 594.98 L738.31 595.10 L740.32 595.21 L742.33 595.33 L744.34 595.44 L746.36 595.55 L748.37 595.66 L750.38 595.78 L752.39 595.89 L754.41 596.00 L756.42 596.11 L758.44 596.22 L760.45 596.33 L762.46 596.44 L764.48 596.55 L766.49 596.65 L768.51 596.76 L770.52 596.86 L772.54 596.96 L774.55 597.07 L776.57 597.16 L778.58 597.26 L780.60 597.35 L782.61 597.44 L784.63 597.53 L786.64 597.62 L788.65 597.70 L790.67 597.78 L792.68 597.86 L794.70 597.93 L796.71 598.00 L798.72 598.06 L800.74 598.13 L802.75 598.18 L804.76 598.24 L806.78 598.29 L808.79 598.33 L810.80 598.37 L812.81 598.40 L814.82 598.43 L816.83 598.46 L818.84 598.48 L820.85 598.49 L822.86 598.50 L824.87 598.50 L826.88 598.50 L828.89 598.49 L830.90 598.48 L832.90 598.45 L834.91 598.43 L836.91 598.39 L838.92 598.35 L840.92 598.30 L842.93 598.24 L844.93 598.18 L846.93 598.11 L848.93 598.03 L850.93 597.94 L852.93 597.85 L854.93 597.74 L856.93 597.63 L858.92 597.51 L860.92 597.39 L862.91 597.25 L864.91 597.10 L866.90 596.95 L868.89 596.79 L870.89 596.61 L872.88 596.43 L874.86 596.24 L876.85 596.03 L878.84 595.82 L880.83 595.60 L882.81 595.37 L884.79 595.12 L886.78 594.87 L888.76 594.60 L890.74 594.33 L892.72 594.04 L894.69 593.74 L896.67 593.44 L898.64 593.11 L900.62 592.78 L902.59 592.44 L904.56 592.09 L906.53 591.72 L908.50 591.35 L910.46 590.96 L912.43 590.56 L914.39 590.16 L916.35 589.74 L918.31 589.31 L920.27 588.88 L922.23 588.43 L924.18 587.98 L926.14 587.51 L928.09 587.04 L930.04 586.55 L931.99 586.06 L933.94 585.56 L935.88 585.05 L937.83 584.53 L939.77 584.01 L941.71 583.47 L943.64 582.93 L945.58 582.38 L947.52 581.82 L949.45 581.25 L951.38 580.68 L953.31 580.10 L955.23 579.51 L957.16 578.92 L959.08 578.31 L961.00 577.71 L962.92 577.09 L964.83 576.47 L966.75 575.84 L968.66 575.21 L970.57 574.56 L972.48 573.92 L974.38 573.27 L976.28 572.61 L978.18 571.94 L980.08 571.28 L981.98 570.60 L983.87 569.92 L985.76 569.24 L987.65 568.55 L989.54 567.86 L991.42 567.16 L993.31 566.46 L995.19 565.75 L997.06 565.04 L998.94 564.33 L1000.81 563.62 L1002.69 562.90 L1004.56 562.18 L1006.43 561.46 L1008.30 560.73 L1010.17 560.01 L1012.04 559.28 L1013.91 558.56 L1015.77 557.83 L1017.64 557.10 L1019.51 556.38 L1021.37 555.65 L1023.24 554.93 L1025.11 554.20 L1026.98 553.48 L1028.84 552.76 L1030.71 552.04 L1032.58 551.32 L1034.45 550.61 L1036.33 549.90 L1038.20 549.19 L1040.07 548.48 L1041.95 547.78 L1043.83 547.09 L1045.71 546.40 L1047.59 545.71 L1049.47 545.03 L1051.36 544.35 L1053.24 543.68 L1055.14 543.01 L1057.03 542.35 L1058.92 541.70 L1060.82 541.05 L1062.73 540.41 L1064.63 539.78 L1066.54 539.16 L1068.45 538.54 L1070.37 537.94 L1072.29 537.34 L1074.21 536.75 L1076.14 536.17 L1078.07 535.60 L1080.01 535.04 L1081.95 534.49 L1083.89 533.95 L1085.84 533.42 L1087.80 532.90 L1086.30 530.20" fill="none" stroke="#00B0F0" stroke-width="4.0" stroke-linejoin="miter" stroke-miterlimit="10"/>
<path d="M1005.70 375.20 L1003.67 375.23 L1001.65 375.26 L999.62 375.29 L997.60 375.32 L995.57 375.36 L993.55 375.40 L991.53 375.44 L989.51 375.49 L987.48 375.54 L985.46 375.59 L983.44 375.64 L981.43 375.70 L979.41 375.76 L977.39 375.82 L975.37 375.88 L973.36 375.95 L971.34 376.02 L969.33 376.09 L967.31 376.16 L965.30 376.23 L963.29 376.31 L961.27 376.39 L959.26 376.47 L957.25 376.56 L955.24 376.64 L953.23 376.73 L951.22 376.82 L949.21 376.91 L947.20 377.01 L945.19 377.10 L943.18 377.20 L941.17 377.30 L939.17 377.40 L937.16 377.50 L935.15 377.61 L933.15 377.71 L931.14 377.82 L929.13 377.93 L927.13 378.04 L925.12 378.15 L923.12 378.27 L921.11 378.38 L919.11 378.50 L917.10 378.61 L915.10 378.73 L913.09 378.85 L911.09 378.97 L909.09 379.10 L907.08 379.22 L905.08 379.34 L903.08 379.47 L901.07 379.60 L899.07 379.72 L897.07 379.85 L895.06 379.98 L893.06 380.11 L891.06 380.24 L889.06 380.37 L887.05 380.51 L885.05 380.64 L883.05 380.77 L881.04 380.91 L879.04 381.04 L877.04 381.18 L875.03 381.31 L873.03 381.45 L871.03 381.59 L869.02 381.72 L867.02 381.86 L865.02 382.00 L863.01 382.14 L861.01 382.27 L859.00 382.41 L857.00 382.55 L854.99 382.69 L852.99 382.83 L850.98 382.97 L848.98 383.10 L846.97 383.24 L844.96 383.38 L842.96 383.52 L840.95 383.66 L838.94 383.80 L836.93 383.93 L834.93 384.07 L832.92 384.21 L830.91 384.34 L828.90 384.48 L826.89 384.62 L824.88 384.75 L822.87 384.89 L820.86 385.02 L818.84 385.15 L816.83 385.29 L814.82 385.42 L812.80 385.55 L810.79 385.68 L808.78 385.81 L806.76 385.94 L804.74 386.07 L802.73 386.19 L800.71 386.32 L798.69 386.45 L796.67 386.57 L794.65 386.69 L792.63 386.82 L790.61 386.94 L788.59 387.06 L786.57 387.19 L784.55 387.31 L782.53 387.44 L780.51 387.57 L778.49 387.70 L776.47 387.84 L774.45 387.98 L772.43 388.12 L770.41 388.27 L768.40 388.43 L766.38 388.59 L764.37 388.75 L762.35 388.92 L760.34 389.10 L758.33 389.29 L756.32 389.48 L754.31 389.69 L752.31 389.90 L750.30 390.12 L748.30 390.35 L746.30 390.59 L744.30 390.84 L742.31 391.10 L740.31 391.38 L738.32 391.67 L736.33 391.96 L734.35 392.28 L732.37 392.60 L730.39 392.94 L728.41 393.29 L726.44 393.66 L724.47 394.05 L722.51 394.45 L720.54 394.86 L718.59 395.30 L716.63 395.75 L714.68 396.21 L712.73 396.70 L710.79 397.20 L708.85 397.73 L706.92 398.27 L704.99 398.83 L703.07 399.41 L701.15 400.02 L699.23 400.64 L697.33 401.29 L695.42 401.96 L693.52 402.65 L691.63 403.36 L689.74 404.10 L687.86 404.87 L685.98 405.65 L684.11 406.47 L682.26 407.32 L680.45 408.21 L678.70 409.15 L677.01 410.16 L675.41 411.25 L673.91 412.41 L672.53 413.67 L671.29 415.03 L670.19 416.50 L669.26 418.09 L668.50 419.81 L667.91 421.62 L667.49 423.53 L667.23 425.51 L667.12 427.55 L667.15 429.63 L667.31 431.74 L667.58 433.87 L667.95 436.01 L668.41 438.14 L668.95 440.25 L669.54 442.33 L670.19 444.36 L670.88 446.35 L671.61 448.28 L672.38 450.18 L673.19 452.03 L674.04 453.84 L674.93 455.61 L675.86 457.35 L676.83 459.06 L677.83 460.75 L678.87 462.41 L679.95 464.04 L681.07 465.66 L682.21 467.27 L683.40 468.85 L684.61 470.43 L685.86 472.00 L687.14 473.57 L688.46 475.13 L689.80 476.70" fill="none" stroke="#00B0F0" stroke-width="4.0" stroke-linejoin="miter" stroke-miterlimit="10"/>
<path d="M689.80 476.80 L691.83 476.75 L693.85 476.71 L695.88 476.67 L697.91 476.64 L699.93 476.61 L701.96 476.59 L703.98 476.58 L706.00 476.57 L708.03 476.57 L710.05 476.57 L712.07 476.58 L714.09 476.59 L716.12 476.61 L718.14 476.64 L720.16 476.67 L722.18 476.70 L724.20 476.75 L726.22 476.79 L728.24 476.84 L730.25 476.90 L732.27 476.96 L734.29 477.03 L736.31 477.10 L738.32 477.18 L740.34 477.26 L742.36 477.35 L744.37 477.44 L746.39 477.53 L748.40 477.63 L750.42 477.74 L752.43 477.85 L754.45 477.97 L756.46 478.09 L758.47 478.21 L760.49 478.34 L762.50 478.47 L764.51 478.61 L766.52 478.75 L768.53 478.89 L770.54 479.04 L772.56 479.20 L774.57 479.35 L776.58 479.52 L778.59 479.68 L780.59 479.85 L782.60 480.03 L784.61 480.20 L786.62 480.39 L788.63 480.57 L790.64 480.76 L792.64 480.95 L794.65 481.15 L796.66 481.35 L798.66 481.55 L800.67 481.76 L802.68 481.97 L804.68 482.18 L806.69 482.40 L808.69 482.62 L810.70 482.84 L812.70 483.06 L814.71 483.29 L816.71 483.53 L818.71 483.76 L820.72 484.00 L822.72 484.24 L824.72 484.48 L826.73 484.73 L828.73 484.98 L830.73 485.23 L832.73 485.49 L834.74 485.74 L836.74 486.00 L838.74 486.27 L840.74 486.53 L842.74 486.80 L844.74 487.07 L846.74 487.34 L848.74 487.62 L850.74 487.89 L852.74 488.17 L854.74 488.45 L856.74 488.73 L858.74 489.02 L860.74 489.31 L862.74 489.59 L864.74 489.88 L866.73 490.18 L868.73 490.47 L870.73 490.77 L872.73 491.06 L874.73 491.36 L876.72 491.66 L878.72 491.97 L880.72 492.27 L882.72 492.58 L884.71 492.88 L886.71 493.19 L888.71 493.50 L890.70 493.81 L892.70 494.12 L894.70 494.43 L896.69 494.74 L898.69 495.06 L900.68 495.37 L902.68 495.68 L904.68 496.00 L906.67 496.31 L908.67 496.63 L910.66 496.94 L912.66 497.25 L914.66 497.57 L916.65 497.88 L918.65 498.20 L920.64 498.51 L922.64 498.82 L924.64 499.13 L926.63 499.44 L928.63 499.75 L930.63 500.06 L932.62 500.36 L934.62 500.67 L936.61 500.97 L938.61 501.28 L940.61 501.58 L942.60 501.88 L944.60 502.17 L946.60 502.47 L948.60 502.76 L950.59 503.05 L952.59 503.34 L954.59 503.63 L956.59 503.91 L958.59 504.19 L960.58 504.47 L962.58 504.75 L964.58 505.02 L966.58 505.29 L968.58 505.56 L970.58 505.82 L972.58 506.08 L974.58 506.34 L976.58 506.59 L978.58 506.84 L980.58 507.09 L982.59 507.33 L984.59 507.57 L986.59 507.80 L988.59 508.03 L990.60 508.26 L992.60 508.48 L994.60 508.70 L996.61 508.91 L998.61 509.12 L1000.62 509.32 L1002.62 509.52 L1004.63 509.71 L1006.63 509.90 L1008.64 510.08 L1010.65 510.26 L1012.65 510.43 L1014.66 510.59 L1016.67 510.75 L1018.68 510.91 L1020.69 511.06 L1022.70 511.20 L1024.71 511.34 L1026.72 511.47 L1028.73 511.59 L1030.74 511.71 L1032.76 511.82 L1034.77 511.92 L1036.78 512.02 L1038.80 512.11 L1040.81 512.20 L1042.83 512.27 L1044.85 512.34 L1046.86 512.41 L1048.88 512.46 L1050.90 512.51 L1052.92 512.55 L1054.94 512.58 L1056.96 512.61 L1058.98 512.62 L1061.00 512.63 L1063.02 512.63 L1065.05 512.62 L1067.07 512.61 L1069.09 512.58 L1071.12 512.55 L1073.15 512.51 L1075.17 512.46 L1077.20 512.40 L1079.00 515.50" fill="none" stroke="#00B0F0" stroke-width="4.0" stroke-linejoin="miter" stroke-miterlimit="10"/>
<path d="M1077.2 512.4 L1087.8 532.9" stroke="#00B0F0" stroke-width="4.0" stroke-dasharray="9.5 4.5"/>
<path d="M781.20 476.00 L779.64 473.94 L778.74 471.91 L778.41 469.93 L778.58 468.01 L779.17 466.17 L780.12 464.44 L781.32 462.82 L782.69 461.30 L784.14 459.87 L785.64 458.52 L787.18 457.26 L788.77 456.07 L790.41 454.95 L792.08 453.91 L793.79 452.93 L795.54 452.01 L797.32 451.15 L799.14 450.35 L800.98 449.59 L802.85 448.89 L804.75 448.23 L806.67 447.61 L808.60 447.02 L810.56 446.47 L812.53 445.95 L814.52 445.46 L816.51 444.98 L818.52 444.53 L820.53 444.09 L822.54 443.66 L824.56 443.24 L826.58 442.83 L828.59 442.42 L830.60 442.01 L832.61 441.60 L834.62 441.19 L836.63 440.78 L838.63 440.38 L840.63 439.97 L842.64 439.57 L844.64 439.17 L846.63 438.78 L848.63 438.38 L850.63 437.99 L852.62 437.60 L854.61 437.21 L856.60 436.83 L858.60 436.44 L860.58 436.06 L862.57 435.69 L864.56 435.31 L866.55 434.94 L868.54 434.57 L870.52 434.20 L872.51 433.84 L874.49 433.48 L876.48 433.12 L878.46 432.77 L880.44 432.42 L882.43 432.07 L884.41 431.73 L886.40 431.39 L888.38 431.05 L890.36 430.71 L892.35 430.38 L894.33 430.06 L896.32 429.74 L898.30 429.42 L900.29 429.10 L902.28 428.79 L904.26 428.49 L906.25 428.19 L908.24 427.89 L910.23 427.59 L912.22 427.31 L914.21 427.02 L916.21 426.74 L918.20 426.47 L920.20 426.19 L922.20 425.93 L924.19 425.67 L926.19 425.41 L928.20 425.16 L930.20 424.91 L932.21 424.67 L934.21 424.43 L936.22 424.20 L938.23 423.98 L940.25 423.76 L942.26 423.54 L944.28 423.33 L946.29 423.12 L948.31 422.91 L950.34 422.71 L952.36 422.51 L954.38 422.31 L956.40 422.12 L958.43 421.92 L960.45 421.73 L962.48 421.53 L964.50 421.34 L966.53 421.14 L968.56 420.95 L970.58 420.75 L972.61 420.55 L974.63 420.35 L976.66 420.14 L978.68 419.93 L980.71 419.72 L982.73 419.50 L984.75 419.28 L986.77 419.05 L988.79 418.81 L990.80 418.57 L992.82 418.33 L994.83 418.08 L996.85 417.81 L998.86 417.55 L1000.86 417.27 L1002.87 416.98 L1004.87 416.69 L1006.87 416.38 L1008.87 416.07 L1010.86 415.74 L1012.86 415.41 L1014.84 415.06 L1016.83 414.70 L1018.81 414.32 L1020.79 413.94 L1022.76 413.54 L1024.73 413.13 L1026.70 412.70" fill="none" stroke="#00B0F0" stroke-width="4.0" stroke-linejoin="miter" stroke-miterlimit="10" stroke-dasharray="11.8 4.3"/>
<path d="M1055.60 464.20 L1053.47 464.36 L1051.35 464.55 L1049.25 464.77 L1047.17 465.02 L1045.10 465.30 L1043.04 465.61 L1041.00 465.94 L1038.96 466.30 L1036.94 466.67 L1034.93 467.07 L1032.92 467.49 L1030.92 467.93 L1028.93 468.38 L1026.95 468.85 L1024.97 469.33 L1022.99 469.82 L1021.01 470.33 L1019.04 470.84 L1017.07 471.36 L1015.10 471.89 L1013.13 472.42 L1011.15 472.95 L1009.17 473.49 L1007.19 474.03 L1005.20 474.56 L1003.21 475.10 L1001.21 475.63 L999.20 476.15 L997.19 476.67 L995.16 477.18 L993.13 477.68 L991.08 478.17 L989.02 478.65 L986.96 479.13 L984.90 479.62 L982.85 480.13 L980.81 480.66 L978.78 481.22 L976.77 481.81 L974.79 482.45 L972.83 483.14 L970.91 483.89 L969.02 484.70 L967.18 485.59 L965.39 486.55 L963.65 487.61 L961.96 488.75 L960.35 490.00 L958.86 491.36 L957.61 492.86 L956.66 494.50 L956.11 496.30 L956.02 498.25 L956.40 500.30 L957.26 502.37 L958.60 504.40" fill="none" stroke="#00B0F0" stroke-width="4.0" stroke-linejoin="miter" stroke-miterlimit="10"/>
<path d="M626.50 432.00 L624.52 432.15 L622.53 432.30 L620.55 432.47 L618.56 432.65 L616.57 432.84 L614.59 433.04 L612.60 433.25 L610.61 433.47 L608.62 433.71 L606.63 433.95 L604.65 434.21 L602.66 434.48 L600.67 434.75 L598.68 435.04 L596.70 435.34 L594.71 435.65 L592.73 435.98 L590.75 436.31 L588.76 436.66 L586.78 437.01 L584.81 437.38 L582.83 437.76 L580.85 438.15 L578.88 438.56 L576.91 438.97 L574.94 439.40 L572.97 439.84 L571.01 440.28 L569.05 440.75 L567.09 441.22 L565.13 441.70 L563.18 442.20 L561.23 442.71 L559.28 443.23 L557.34 443.76 L555.40 444.31 L553.46 444.86 L551.53 445.43 L549.60 446.01 L547.68 446.61 L545.76 447.21 L543.85 447.83 L541.94 448.46 L540.03 449.10 L538.13 449.75 L536.23 450.42 L534.34 451.10 L532.46 451.79 L530.58 452.49 L528.70 453.21 L526.83 453.94 L524.97 454.68 L523.11 455.43 L521.26 456.20 L519.41 456.98 L517.58 457.78 L515.74 458.58 L513.92 459.40 L512.10 460.24 L510.29 461.09 L508.49 461.95 L506.70 462.83 L504.91 463.72 L503.13 464.63 L501.36 465.55 L499.60 466.49 L497.85 467.44 L496.11 468.40 L494.38 469.39 L492.65 470.39 L490.94 471.40 L489.23 472.43 L487.54 473.48 L485.85 474.54 L484.18 475.62 L482.52 476.71 L480.86 477.83 L479.22 478.96 L477.59 480.10 L475.97 481.27 L474.37 482.45 L472.77 483.65 L471.19 484.87 L469.62 486.10 L468.06 487.36 L466.51 488.63 L464.98 489.92 L463.46 491.23 L461.95 492.56 L460.46 493.90 L458.98 495.27 L457.52 496.65 L456.07 498.06 L454.63 499.48 L453.21 500.93 L451.80 502.39 L450.40 503.88 L449.03 505.38 L447.66 506.91 L446.32 508.45 L444.99 510.02 L443.68 511.61 L442.39 513.22 L441.14 514.85 L439.93 516.51 L438.76 518.19 L437.64 519.90 L436.58 521.63 L435.58 523.39 L434.64 525.18 L433.78 526.99 L433.00 528.83 L432.30 530.70 L431.69 532.60 L431.18 534.53 L430.77 536.49 L430.47 538.48 L430.29 540.48 L430.23 542.48 L430.31 544.46 L430.53 546.41 L430.89 548.30 L431.41 550.13 L432.10 551.88 L432.96 553.53 L433.99 555.09 L435.18 556.55 L436.49 557.92 L437.92 559.20 L439.46 560.41 L441.08 561.55 L442.76 562.62 L444.49 563.63 L446.26 564.59 L448.05 565.49 L449.86 566.35 L451.70 567.16 L453.56 567.93 L455.43 568.66 L457.32 569.35 L459.23 570.00 L461.16 570.63 L463.09 571.22 L465.04 571.78 L467.00 572.32 L468.97 572.83 L470.94 573.32 L472.92 573.80 L474.91 574.25 L476.90 574.70 L478.89 575.13 L480.88 575.56 L482.87 575.98 L484.86 576.39 L486.85 576.79 L488.84 577.19 L490.83 577.58 L492.82 577.97 L494.81 578.35 L496.80 578.72 L498.78 579.08 L500.77 579.44 L502.76 579.80 L504.75 580.14 L506.74 580.48 L508.72 580.82 L510.71 581.15 L512.70 581.47 L514.69 581.79 L516.67 582.10 L518.66 582.40 L520.65 582.70 L522.63 583.00 L524.62 583.29 L526.61 583.57 L528.59 583.85 L530.58 584.13 L532.56 584.40 L534.55 584.66 L536.54 584.92 L538.52 585.17 L540.51 585.42 L542.50 585.67 L544.48 585.91 L546.47 586.15 L548.46 586.38 L550.44 586.61 L552.43 586.83 L554.42 587.05 L556.40 587.26 L558.39 587.47 L560.38 587.68 L562.37 587.89 L564.35 588.09 L566.34 588.28 L568.33 588.47 L570.32 588.66 L572.31 588.85 L574.30 589.03 L576.29 589.21 L578.28 589.39 L580.27 589.56 L582.26 589.73 L584.25 589.90 L586.24 590.06 L588.23 590.22 L590.22 590.38 L592.21 590.54 L594.21 590.69 L596.20 590.84 L598.19 590.99 L600.19 591.14 L602.18 591.28 L604.17 591.42 L606.17 591.56 L608.16 591.70 L610.16 591.84 L612.16 591.97 L614.15 592.11 L616.15 592.24 L618.15 592.37 L620.15 592.50 L622.15 592.62 L624.15 592.75 L626.15 592.87 L628.15 593.00 L630.15 593.12 L632.15 593.24 L634.16 593.36 L636.16 593.48 L638.16 593.59 L640.17 593.71 L642.17 593.82 L644.18 593.93 L646.18 594.04 L648.19 594.15 L650.20 594.26 L652.20 594.36 L654.21 594.46 L656.22 594.56 L658.23 594.66 L660.23 594.75 L662.24 594.84 L664.25 594.93 L666.26 595.01 L668.27 595.10 L670.28 595.18 L672.29 595.25 L674.30 595.32 L676.31 595.39 L678.32 595.46 L680.33 595.52 L682.34 595.58 L684.35 595.64 L686.36 595.69 L688.37 595.74 L690.38 595.78 L692.39 595.82 L694.41 595.85 L696.42 595.88 L698.43 595.91 L700.44 595.93 L702.45 595.95 L704.46 595.96 L706.47 595.97 L708.48 595.97 L710.49 595.97 L712.49 595.96 L714.50 595.95 L716.51 595.93 L718.52 595.91 L720.53 595.88 L722.54 595.85 L724.54 595.81 L726.55 595.76 L728.56 595.71 L730.56 595.66 L732.57 595.59 L734.58 595.52 L736.58 595.45 L738.58 595.36 L740.59 595.28 L742.59 595.18 L744.59 595.08 L746.60 594.97 L748.60 594.86 L750.60 594.73 L752.60 594.60 L754.60 594.47 L756.60 594.33 L758.60 594.17 L760.59 594.02 L762.59 593.85 L764.59 593.68 L766.58 593.50 L768.58 593.31 L770.57 593.11 L772.56 592.91 L774.56 592.69 L776.55 592.47 L778.54 592.24 L780.53 592.01 L782.52 591.76 L784.50 591.51 L786.49 591.24 L788.47 590.97 L790.46 590.69 L792.44 590.41 L794.42 590.11 L796.41 589.81 L798.38 589.50 L800.36 589.18 L802.34 588.85 L804.32 588.51 L806.29 588.17 L808.27 587.82 L810.24 587.46 L812.21 587.09 L814.18 586.71 L816.15 586.33 L818.11 585.94 L820.08 585.54 L822.04 585.13 L824.00 584.72 L825.96 584.29 L827.92 583.86 L829.88 583.43 L831.84 582.98 L833.79 582.53 L835.74 582.07 L837.70 581.60 L839.64 581.12 L841.59 580.64 L843.54 580.15 L845.48 579.65 L847.42 579.14 L849.36 578.63 L851.30 578.11 L853.24 577.58 L855.17 577.05 L857.11 576.51 L859.04 575.96 L860.96 575.40 L862.89 574.84 L864.82 574.27 L866.74 573.69 L868.66 573.11 L870.58 572.51 L872.49 571.92 L874.40 571.31 L876.32 570.70 L878.23 570.08 L880.13 569.45 L882.04 568.82 L883.94 568.18 L885.84 567.53 L887.74 566.88 L889.63 566.22 L891.52 565.55 L893.41 564.88 L895.30 564.19 L897.19 563.51 L899.07 562.81 L900.95 562.12 L902.83 561.41 L904.70 560.70 L906.58 559.99 L908.45 559.27 L910.33 558.55 L912.20 557.83 L914.07 557.11 L915.94 556.38 L917.81 555.65 L919.67 554.92 L921.54 554.19 L923.41 553.46 L925.28 552.73 L927.15 552.01 L929.02 551.28 L930.89 550.55 L932.76 549.83 L934.63 549.11 L936.50 548.40 L938.37 547.69 L940.25 546.98 L942.13 546.28 L944.01 545.58 L945.89 544.89 L947.77 544.21 L949.66 543.53 L951.55 542.86 L953.44 542.20 L955.33 541.54 L957.23 540.90 L959.13 540.26 L961.04 539.64 L962.95 539.02 L964.86 538.41 L966.77 537.82 L968.70 537.24 L970.62 536.67 L972.55 536.11 L974.48 535.57 L976.42 535.03 L978.37 534.52 L980.32 534.02 L982.27 533.53 L984.23 533.06 L986.20 532.60 L984.60 529.20" fill="none" stroke="#FF0000" stroke-width="4.0" stroke-linejoin="miter" stroke-miterlimit="10"/>
<path d="M966.00 371.10 L964.00 371.16 L962.00 371.21 L959.99 371.26 L957.99 371.31 L955.99 371.36 L953.98 371.40 L951.98 371.44 L949.97 371.49 L947.97 371.53 L945.96 371.56 L943.95 371.60 L941.95 371.63 L939.94 371.67 L937.93 371.70 L935.92 371.73 L933.91 371.75 L931.91 371.78 L929.90 371.81 L927.89 371.83 L925.88 371.86 L923.87 371.88 L921.85 371.90 L919.84 371.92 L917.83 371.94 L915.82 371.96 L913.81 371.98 L911.80 372.00 L909.78 372.02 L907.77 372.03 L905.76 372.05 L903.74 372.07 L901.73 372.08 L899.72 372.10 L897.70 372.11 L895.69 372.13 L893.67 372.14 L891.66 372.16 L889.64 372.18 L887.63 372.19 L885.62 372.21 L883.60 372.23 L881.58 372.24 L879.57 372.26 L877.55 372.28 L875.54 372.30 L873.52 372.32 L871.51 372.34 L869.49 372.36 L867.47 372.39 L865.46 372.41 L863.44 372.43 L861.43 372.46 L859.41 372.49 L857.39 372.51 L855.38 372.54 L853.36 372.57 L851.35 372.61 L849.33 372.64 L847.32 372.68 L845.30 372.71 L843.28 372.75 L841.27 372.79 L839.25 372.84 L837.24 372.88 L835.22 372.93 L833.21 372.98 L831.19 373.03 L829.18 373.08 L827.16 373.14 L825.15 373.20 L823.13 373.26 L821.12 373.32 L819.10 373.38 L817.09 373.45 L815.08 373.52 L813.06 373.60 L811.05 373.67 L809.04 373.75 L807.02 373.84 L805.01 373.92 L803.00 374.01 L800.99 374.10 L798.98 374.20 L796.97 374.30 L794.95 374.40 L792.94 374.50 L790.93 374.61 L788.92 374.73 L786.92 374.85 L784.91 374.97 L782.90 375.10 L780.89 375.23 L778.89 375.37 L776.88 375.51 L774.88 375.66 L772.88 375.82 L770.87 375.98 L768.87 376.15 L766.87 376.33 L764.88 376.52 L762.88 376.71 L760.88 376.91 L758.89 377.11 L756.90 377.33 L754.91 377.56 L752.92 377.79 L750.93 378.03 L748.95 378.28 L746.96 378.54 L744.98 378.81 L743.00 379.10 L741.03 379.39 L739.05 379.69 L737.08 380.00 L735.11 380.33 L733.14 380.66 L731.17 381.01 L729.21 381.37 L727.25 381.74 L725.29 382.12 L723.34 382.52 L721.39 382.92 L719.44 383.35 L717.49 383.78 L715.55 384.23 L713.60 384.69 L711.67 385.17 L709.73 385.66 L707.80 386.16 L705.87 386.68 L703.95 387.22 L702.03 387.77 L700.11 388.34 L698.20 388.92 L696.29 389.52 L694.38 390.13 L692.48 390.77 L690.58 391.42 L688.68 392.08 L686.79 392.76 L684.90 393.47 L683.02 394.18 L681.14 394.92 L679.26 395.68 L677.39 396.45 L675.53 397.24 L673.67 398.06 L671.81 398.89 L669.96 399.74 L668.11 400.61 L666.26 401.50 L664.42 402.42 L662.59 403.35 L660.76 404.30 L658.94 405.28 L657.12 406.28 L655.30 407.29 L653.50 408.34 L651.70 409.40 L649.92 410.49 L648.16 411.61 L646.43 412.75 L644.72 413.93 L643.05 415.13 L641.42 416.37 L639.83 417.64 L638.29 418.95 L636.80 420.29 L635.37 421.67 L634.00 423.09 L632.69 424.55 L631.46 426.05 L630.30 427.60 L629.21 429.19 L628.22 430.82 L627.31 432.50 L626.49 434.22 L625.76 435.99 L625.14 437.78 L624.61 439.61 L624.19 441.46 L623.88 443.34 L623.68 445.24 L623.60 447.16 L623.63 449.09 L623.78 451.03 L624.04 452.98 L624.41 454.92 L624.88 456.86 L625.45 458.79 L626.12 460.70 L626.88 462.60 L627.73 464.47 L628.67 466.31 L629.68 468.12 L630.77 469.89 L631.94 471.62 L633.17 473.30 L634.47 474.92 L635.83 476.49 L637.24 478.00 L638.71 479.43 L640.23 480.80 L641.80 482.09 L643.40 483.30" fill="none" stroke="#FF0000" stroke-width="4.0" stroke-linejoin="miter" stroke-miterlimit="10"/>
<path d="M643.50 484.00 L645.52 484.00 L647.54 484.01 L649.55 484.02 L651.57 484.05 L653.58 484.08 L655.60 484.11 L657.61 484.16 L659.63 484.21 L661.64 484.26 L663.65 484.33 L665.66 484.39 L667.68 484.47 L669.69 484.55 L671.70 484.64 L673.71 484.73 L675.72 484.83 L677.73 484.94 L679.73 485.05 L681.74 485.17 L683.75 485.29 L685.76 485.42 L687.76 485.55 L689.77 485.69 L691.78 485.84 L693.78 485.99 L695.79 486.14 L697.79 486.30 L699.79 486.46 L701.80 486.63 L703.80 486.81 L705.80 486.99 L707.80 487.17 L709.81 487.36 L711.81 487.55 L713.81 487.74 L715.81 487.94 L717.81 488.15 L719.81 488.36 L721.81 488.57 L723.81 488.78 L725.81 489.00 L727.81 489.23 L729.81 489.45 L731.81 489.68 L733.80 489.92 L735.80 490.16 L737.80 490.40 L739.80 490.64 L741.79 490.89 L743.79 491.13 L745.79 491.39 L747.78 491.64 L749.78 491.90 L751.78 492.16 L753.77 492.42 L755.77 492.69 L757.76 492.95 L759.76 493.22 L761.75 493.49 L763.75 493.77 L765.74 494.04 L767.74 494.32 L769.73 494.60 L771.72 494.88 L773.72 495.16 L775.71 495.45 L777.71 495.73 L779.70 496.02 L781.69 496.30 L783.69 496.59 L785.68 496.88 L787.67 497.17 L789.67 497.47 L791.66 497.76 L793.65 498.05 L795.65 498.34 L797.64 498.64 L799.63 498.93 L801.63 499.23 L803.62 499.52 L805.61 499.82 L807.61 500.11 L809.60 500.41 L811.59 500.71 L813.59 501.00 L815.58 501.29 L817.57 501.59 L819.57 501.88 L821.56 502.18 L823.55 502.47 L825.55 502.76 L827.54 503.05 L829.54 503.34 L831.53 503.63 L833.52 503.92 L835.52 504.21 L837.51 504.49 L839.51 504.78 L841.50 505.06 L843.50 505.34 L845.49 505.62 L847.49 505.90 L849.48 506.17 L851.48 506.44 L853.47 506.71 L855.47 506.98 L857.47 507.25 L859.46 507.51 L861.46 507.77 L863.45 508.03 L865.45 508.29 L867.45 508.54 L869.45 508.79 L871.44 509.03 L873.44 509.27 L875.44 509.51 L877.44 509.75 L879.44 509.98 L881.43 510.21 L883.43 510.43 L885.43 510.65 L887.43 510.87 L889.43 511.08 L891.43 511.29 L893.43 511.49 L895.43 511.69 L897.43 511.88 L899.44 512.07 L901.44 512.25 L903.44 512.43 L905.44 512.61 L907.44 512.77 L909.45 512.94 L911.45 513.09 L913.45 513.25 L915.46 513.39 L917.46 513.53 L919.47 513.67 L921.47 513.80 L923.48 513.92 L925.48 514.04 L927.49 514.15 L929.50 514.25 L931.50 514.35 L933.51 514.44 L935.52 514.52 L937.53 514.60 L939.54 514.67 L941.55 514.73 L943.56 514.78 L945.57 514.83 L947.58 514.87 L949.59 514.90 L951.60 514.93 L953.61 514.94 L955.63 514.95 L957.64 514.96 L959.65 514.95 L961.67 514.93 L963.68 514.91 L965.70 514.88 L967.71 514.84 L969.73 514.79 L971.75 514.73 L973.76 514.66 L975.78 514.59 L977.80 514.50 L979.30 517.80" fill="none" stroke="#FF0000" stroke-width="4.0" stroke-linejoin="miter" stroke-miterlimit="10"/>
<path d="M643.5 483.6 L643.5 484.0" stroke="#FF0000" stroke-width="4.0"/>
<path d="M977.8 514.5 L986.2 532.6" stroke="#FF0000" stroke-width="4.0" stroke-dasharray="9.5 4.5"/>
<path d="M689.00 482.40 L687.57 480.41 L686.55 478.39 L685.93 476.38 L685.67 474.39 L685.76 472.45 L686.16 470.61 L686.85 468.87 L687.80 467.26 L688.97 465.76 L690.33 464.37 L691.84 463.08 L693.47 461.86 L695.19 460.72 L696.94 459.64 L698.72 458.61 L700.51 457.63 L702.32 456.71 L704.14 455.82 L705.98 454.99 L707.84 454.19 L709.71 453.44 L711.59 452.72 L713.48 452.04 L715.39 451.40 L717.31 450.79 L719.24 450.21 L721.18 449.67 L723.12 449.14 L725.08 448.65 L727.04 448.18 L729.01 447.73 L730.99 447.30 L732.97 446.88 L734.96 446.49 L736.95 446.10 L738.95 445.73 L740.95 445.37 L742.95 445.02 L744.95 444.68 L746.96 444.34 L748.96 444.00 L750.96 443.66 L752.97 443.32 L754.97 442.99 L756.97 442.65 L758.97 442.31 L760.97 441.98 L762.97 441.64 L764.97 441.31 L766.97 440.98 L768.97 440.65 L770.97 440.31 L772.97 439.98 L774.97 439.65 L776.96 439.33 L778.96 439.00 L780.96 438.67 L782.96 438.35 L784.95 438.02 L786.95 437.70 L788.95 437.38 L790.94 437.06 L792.94 436.74 L794.94 436.42 L796.93 436.11 L798.93 435.80 L800.93 435.49 L802.92 435.18 L804.92 434.87 L806.91 434.56 L808.91 434.26 L810.91 433.96 L812.91 433.66 L814.90 433.36 L816.90 433.06 L818.90 432.77 L820.90 432.48 L822.89 432.19 L824.89 431.91 L826.89 431.62 L828.89 431.34 L830.89 431.07 L832.89 430.79 L834.89 430.52 L836.89 430.25 L838.89 429.98 L840.90 429.72 L842.90 429.46 L844.90 429.20 L846.91 428.95 L848.91 428.70 L850.91 428.45 L852.92 428.20 L854.93 427.96 L856.93 427.73 L858.94 427.49 L860.95 427.26 L862.96 427.03 L864.97 426.81 L866.98 426.59 L868.99 426.37 L871.00 426.15 L873.01 425.94 L875.03 425.73 L877.04 425.52 L879.05 425.31 L881.07 425.11 L883.08 424.91 L885.10 424.71 L887.11 424.51 L889.13 424.31 L891.14 424.12 L893.16 423.92 L895.18 423.73 L897.19 423.54 L899.21 423.35 L901.23 423.16 L903.25 422.97 L905.26 422.78 L907.28 422.60 L909.30 422.41 L911.32 422.22 L913.34 422.03 L915.35 421.85 L917.37 421.66 L919.39 421.47 L921.41 421.29 L923.42 421.10 L925.44 420.91 L927.46 420.72 L929.48 420.53 L931.49 420.34 L933.51 420.15 L935.53 419.96 L937.55 419.76 L939.56 419.57 L941.58 419.37 L943.59 419.17 L945.61 418.97 L947.62 418.76 L949.64 418.56 L951.65 418.35 L953.67 418.14 L955.68 417.93 L957.69 417.72 L959.70 417.50 L961.71 417.28 L963.73 417.06 L965.74 416.83 L967.75 416.60 L969.75 416.37 L971.76 416.14 L973.77 415.90 L975.78 415.65 L977.78 415.41 L979.79 415.16 L981.79 414.90 L983.80 414.64 L985.80 414.38 L987.80 414.11 L989.80 413.84 L991.80 413.57 L993.80 413.29 L995.80 413.00" fill="none" stroke="#FF0000" stroke-width="4.0" stroke-linejoin="miter" stroke-miterlimit="10" stroke-dasharray="11.8 4.3"/>
<path d="M1026.70 451.80 L1024.64 452.27 L1022.59 452.74 L1020.56 453.23 L1018.55 453.73 L1016.54 454.23 L1014.55 454.75 L1012.57 455.27 L1010.60 455.81 L1008.64 456.35 L1006.69 456.90 L1004.75 457.45 L1002.81 458.02 L1000.89 458.59 L998.96 459.16 L997.05 459.75 L995.13 460.34 L993.22 460.93 L991.31 461.53 L989.40 462.14 L987.50 462.75 L985.59 463.37 L983.68 463.99 L981.77 464.61 L979.86 465.24 L977.95 465.87 L976.03 466.50 L974.10 467.14 L972.17 467.78 L970.24 468.42 L968.29 469.06 L966.34 469.71 L964.38 470.35 L962.40 471.00 L960.42 471.65 L958.44 472.31 L956.45 472.98 L954.47 473.66 L952.50 474.37 L950.55 475.11 L948.61 475.87 L946.70 476.67 L944.81 477.52 L942.96 478.40 L941.14 479.34 L939.37 480.33 L937.64 481.38 L935.96 482.50 L934.34 483.68 L932.77 484.94 L931.28 486.27 L929.85 487.69 L928.51 489.20 L927.30 490.78 L926.25 492.45 L925.38 494.20 L924.75 496.02 L924.38 497.93 L924.29 499.91 L924.52 501.96 L924.99 504.05 L925.62 506.15 L926.35 508.23 L927.09 510.25 L927.76 512.18 L928.30 514.00" fill="none" stroke="#FF0000" stroke-width="4.0" stroke-linejoin="miter" stroke-miterlimit="10"/>
<rect x="1021.5" y="49.5" width="453" height="60" fill="#fff" stroke="#000" stroke-width="1.2"/>
<text x="1036.36" y="73.80" font-size="18.90" fill="#000" textLength="248.62" lengthAdjust="spacingAndGlyphs">Austenitisierungstemperatur:</text>
<text x="1299.56" y="73.80" font-size="18.90" fill="#000" textLength="133.72" lengthAdjust="spacingAndGlyphs">900/1000/1100</text>
<text x="1437.84" y="73.80" font-size="18.90" fill="#000" textLength="18.07" lengthAdjust="spacingAndGlyphs">°C</text>
<text x="1034.83" y="98.90" font-size="18.90" fill="#000" textLength="140.87" lengthAdjust="spacingAndGlyphs">Haltedauer: 10 s</text>
<text x="1197.38" y="98.90" font-size="18.90" fill="#000" textLength="222.59" lengthAdjust="spacingAndGlyphs">(Heizrate: 73,33/81,67/90</text>
<text x="1423.96" y="98.90" font-size="18.90" fill="#000" textLength="33.30" lengthAdjust="spacingAndGlyphs">K/s)</text>
<rect x="1340.3" y="284.4" width="133.5" height="31.6" fill="#fff" stroke="#000" stroke-width="1.15"/>
<rect x="1340.3" y="319.6" width="133.5" height="31.9" fill="#fff" stroke="#000" stroke-width="1.15"/>
<rect x="1340.3" y="353.6" width="133.5" height="31.9" fill="#fff" stroke="#000" stroke-width="1.15"/>
<text x="1346.80" y="308.80" font-size="22.09" font-weight="bold" fill="#000" textLength="25.48" lengthAdjust="spacingAndGlyphs">Ac</text>
<text x="1372.36" y="313.40" font-size="14.68" font-weight="bold" fill="#000" textLength="8.28" lengthAdjust="spacingAndGlyphs">3</text>
<text x="1390.35" y="308.80" font-size="22.09" fill="#000" textLength="75.20" lengthAdjust="spacingAndGlyphs">(810°C)</text>
<text x="1340.99" y="343.60" font-size="22.09" font-weight="bold" fill="#000" textLength="26.00" lengthAdjust="spacingAndGlyphs">Ac</text>
<text x="1366.21" y="348.40" font-size="15.99" font-weight="bold" fill="#000" textLength="17.42" lengthAdjust="spacingAndGlyphs">1e</text>
<text x="1383.76" y="343.60" font-size="22.09" fill="#000" textLength="87.38" lengthAdjust="spacingAndGlyphs">(~760°C)</text>
<text x="1343.79" y="376.80" font-size="22.09" font-weight="bold" fill="#000" textLength="26.21" lengthAdjust="spacingAndGlyphs">Ac</text>
<text x="1369.25" y="380.90" font-size="15.99" font-weight="bold" fill="#000" textLength="17.57" lengthAdjust="spacingAndGlyphs">1b</text>
<text x="1393.46" y="376.80" font-size="22.09" fill="#000" textLength="74.58" lengthAdjust="spacingAndGlyphs">(735°C)</text>
<text x="433.46" y="420.70" font-size="25.44" font-weight="bold" fill="#000" textLength="18.51" lengthAdjust="spacingAndGlyphs">A</text>
<text x="491.88" y="680.70" font-size="25.44" font-weight="bold" fill="#000" textLength="25.14" lengthAdjust="spacingAndGlyphs">M</text>
<text x="1028.22" y="408.80" font-size="25.58" font-weight="bold" fill="#000" textLength="12.64" lengthAdjust="spacingAndGlyphs">F</text>
<text x="1052.23" y="458.80" font-size="25.58" font-weight="bold" fill="#000" textLength="14.61" lengthAdjust="spacingAndGlyphs">P</text>
<text x="1097.73" y="552.80" font-size="25.58" font-weight="bold" fill="#000" textLength="35.72" lengthAdjust="spacingAndGlyphs">Zw</text>
<text x="241.42" y="592.10" font-size="25.44" font-weight="bold" fill="#000" textLength="25.85" lengthAdjust="spacingAndGlyphs">M</text>
<text x="266.55" y="597.80" font-size="17.01" fill="#000" textLength="9.50" lengthAdjust="spacingAndGlyphs">S</text>
<text x="283.05" y="591.80" font-size="22.67" fill="#000" textLength="74.99" lengthAdjust="spacingAndGlyphs">(300°C)</text>
<rect x="132.8" y="602.5" width="306.6" height="232.9" fill="#fff" stroke="#000" stroke-width="1.3"/>
<text x="147.75" y="618.70" font-size="18.02" font-weight="bold" fill="#000" textLength="13.13" lengthAdjust="spacingAndGlyphs">A</text>
<text x="148.02" y="641.80" font-size="18.02" font-weight="bold" fill="#000" textLength="9.87" lengthAdjust="spacingAndGlyphs">F</text>
<text x="148.04" y="664.80" font-size="18.02" font-weight="bold" fill="#000" textLength="10.61" lengthAdjust="spacingAndGlyphs">P</text>
<text x="147.65" y="687.30" font-size="18.02" font-weight="bold" fill="#000" textLength="25.61" lengthAdjust="spacingAndGlyphs">Zw</text>
<text x="147.24" y="734.00" font-size="18.02" font-weight="bold" fill="#000" textLength="19.42" lengthAdjust="spacingAndGlyphs">M</text>
<text x="147.24" y="756.90" font-size="18.02" font-weight="bold" fill="#000" textLength="19.42" lengthAdjust="spacingAndGlyphs">M</text>
<text x="147.62" y="779.50" font-size="18.02" font-weight="bold" fill="#000" textLength="24.61" lengthAdjust="spacingAndGlyphs">HV</text>
<text x="147.65" y="802.80" font-size="18.02" font-weight="bold" fill="#000" textLength="24.91" lengthAdjust="spacingAndGlyphs">RA</text>
<text x="148.08" y="825.60" font-size="18.02" font-weight="bold" fill="#000" textLength="50.45" lengthAdjust="spacingAndGlyphs">1;2;...</text>
<text x="165.36" y="760.60" font-size="14.53" fill="#000" textLength="7.88" lengthAdjust="spacingAndGlyphs">S</text>
<text x="198.25" y="619.10" font-size="18.31" fill="#000" textLength="168.44" lengthAdjust="spacingAndGlyphs">Bereich d. Austenits</text>
<text x="198.21" y="641.70" font-size="18.31" fill="#000" textLength="200.44" lengthAdjust="spacingAndGlyphs">Bereich d. Ferritbildung</text>
<text x="198.21" y="664.80" font-size="18.31" fill="#000" textLength="199.44" lengthAdjust="spacingAndGlyphs">Bereich d. Perlitbildung</text>
<text x="198.25" y="687.40" font-size="18.31" fill="#000" textLength="227.69" lengthAdjust="spacingAndGlyphs">Bereich d. Zwischenstufen-</text>
<text x="198.59" y="710.50" font-size="18.31" fill="#000" textLength="121.46" lengthAdjust="spacingAndGlyphs">gefügebildung</text>
<text x="198.19" y="733.50" font-size="18.31" fill="#000" textLength="237.17" lengthAdjust="spacingAndGlyphs">Bereich d. Martensitbildung</text>
<text x="198.50" y="756.60" font-size="18.31" fill="#000" textLength="224.24" lengthAdjust="spacingAndGlyphs">Starttemperatur Martensit</text>
<text x="198.22" y="779.60" font-size="18.31" fill="#000" textLength="146.87" lengthAdjust="spacingAndGlyphs">Härtewerte in HV</text>
<text x="198.26" y="802.70" font-size="18.31" fill="#000" textLength="197.71" lengthAdjust="spacingAndGlyphs">Restaustenitgehalt in %</text>
<text x="198.45" y="825.30" font-size="18.31" fill="#000" textLength="159.83" lengthAdjust="spacingAndGlyphs">Gefügeanteile in %</text>
<text x="345.49" y="783.30" font-size="12.35" fill="#000" textLength="14.73" lengthAdjust="spacingAndGlyphs">10</text>
<polygon points="390.3,843.9 394.6,843.9 400.1,838.6 405.2,843.9 410,843.9 403.2,835.8 397.3,835.8" fill="#000060"/>
<text x="452.88" y="37.10" font-size="26.60" font-weight="bold" fill="#000" textLength="61.02" lengthAdjust="spacingAndGlyphs">C38 -</text>
<text x="519.99" y="37.10" font-size="26.60" font-weight="bold" fill="#FF0000" textLength="61.27" lengthAdjust="spacingAndGlyphs">K900</text>
<polygon points="589.1,16.2 592.8,16.2 584.2,40.8 580.9,40.8" fill="#000"/>
<text x="592.96" y="37.10" font-size="26.60" font-weight="bold" fill="#00B0F0" textLength="76.50" lengthAdjust="spacingAndGlyphs">K1000</text>
<polygon points="677.2,16.2 680.9,16.2 672.3,40.8 669.0,40.8" fill="#000"/>
<text x="680.76" y="37.10" font-size="26.60" font-weight="bold" fill="#00B050" textLength="76.50" lengthAdjust="spacingAndGlyphs">K1100</text>
<text x="761.71" y="36.60" font-size="26.60" fill="#000" textLength="391.44" lengthAdjust="spacingAndGlyphs">- kontinuierliches ZTU-Diagramm</text>
</svg>
</body></html>
